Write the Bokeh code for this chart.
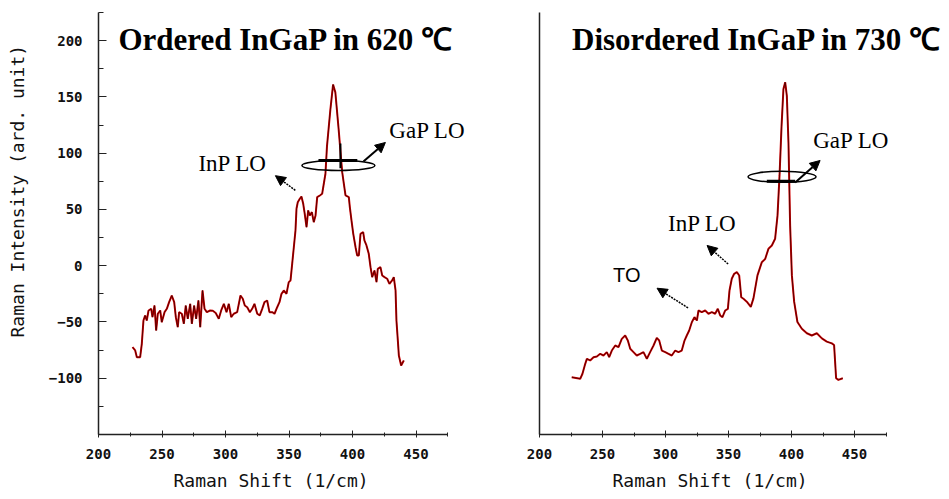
import math
from bokeh.plotting import figure
from bokeh.layouts import row
from bokeh.models import FixedTicker, Label, Arrow, NormalHead, ColumnDataSource, Title
from bokeh.core.properties import value
from bokeh.embed import file_html
from bokeh.resources import INLINE

# ---- data ----
ordered_shift = [226.8, 228.9, 230.2, 232.8, 234.1, 235.4, 236.7, 238.0, 239.4, 241.5, 242.5, 244.1,
                 245.4, 246.7, 248.6, 249.8, 252.0, 253.8, 255.6, 257.7, 259.6, 260.9, 262.4, 263.5,
                 265.6, 267.2, 268.7, 270.3, 272.2, 273.5, 275.3, 276.9, 278.7, 280.1, 281.9, 283.5,
                 285.3, 287.9, 290.0, 292.3, 294.7, 296.6, 298.7, 300.8, 302.6, 304.5, 306.5, 309.2,
                 311.8, 313.6, 315.2, 317.1, 319.2, 321.0, 322.8, 325.0, 327.0, 328.9, 330.7, 332.8,
                 334.6, 336.8, 338.6, 340.7, 342.5, 344.1, 345.9, 348.0, 349.8, 351.2, 352.5, 353.8,
                 355.1, 355.9, 356.9, 358.5, 359.8, 361.2, 362.4, 363.8, 365.1, 366.4, 368.0, 369.5,
                 370.9, 372.2, 374.3, 376.1, 377.4, 378.7, 379.9, 382.6, 384.7, 386.5, 389.1, 391.0,
                 391.9, 393.2, 394.5, 397.1, 397.9, 399.2, 400.6, 402.4, 403.7, 405.0, 406.3, 408.4,
                 409.4, 411.0, 412.8, 414.2, 415.5, 417.3, 418.9, 419.9, 422.0, 423.4, 425.2, 427.3,
                 429.1, 431.2, 432.5, 433.9, 434.6, 435.7, 436.5, 438.3, 440.4]
ordered_int = [-72.4, -75.3, -81.3, -81.3, -69.4, -48.7, -44.2, -48.7, -39.8, -38.3, -45.7, -35.4,
               -57.6, -42.7, -39.8, -50.2, -41.3, -38.3, -32.4, -26.5, -32.4, -45.7, -54.6, -41.3,
               -42.7, -51.6, -35.4, -47.2, -33.9, -51.6, -35.4, -47.2, -30.9, -54.6, -22.0, -38.3,
               -41.3, -39.8, -40.0, -42.0, -47.2, -39.8, -33.9, -41.3, -33.9, -45.7, -42.7, -41.3,
               -26.5, -29.4, -35.4, -36.9, -41.3, -38.3, -33.9, -42.7, -44.2, -38.3, -32.4, -30.9,
               -41.3, -41.3, -42.7, -36.9, -32.4, -25.0, -22.0, -25.0, -14.6, -13.1, 1.7, 16.4,
               31.3, 50.6, 56.4, 59.4, 61.5, 55.0, 46.1, 34.2, 49.1, 44.6, 47.6, 38.7,
               44.6, 60.9, 62.4, 63.9, 72.8, 81.7, 106.0, 139.0, 161.0, 154.0, 121.0, 95.0,
               83.1, 72.8, 62.4, 60.9, 52.0, 40.2, 28.3, 16.4, 9.1, 9.1, 28.3, 29.8,
               22.4, 18.0, 10.6, -1.3, -10.2, -4.3, -14.6, -2.8, -1.3, -8.7, -10.2, -11.6,
               -16.1, -13.1, -10.2, -22.0, -48.7, -66.5, -79.8, -88.7, -84.2]

disordered_shift = [225.6, 232.3, 234.1, 236.3, 237.6, 240.2, 242.9, 245.5, 248.2, 250.8, 253.4, 255.3,
                    257.4, 260.1, 262.7, 265.3, 268.0, 270.1, 272.0, 274.6, 277.2, 279.9, 282.5, 285.2,
                    287.8, 290.5, 293.1, 295.0, 297.1, 299.8, 302.4, 305.0, 307.7, 310.3, 312.9, 315.1,
                    316.9, 318.8, 320.9, 323.0, 324.9, 326.2, 328.8, 331.5, 334.1, 336.8, 339.4, 341.5,
                    343.4, 345.2, 347.4, 349.5, 350.8, 352.6, 354.5, 356.6, 358.5, 360.1, 361.9, 364.5,
                    367.7, 369.8, 373.0, 376.4, 379.1, 381.7, 384.4, 387.0, 388.9, 390.5, 392.1, 393.6,
                    395.0, 396.3, 397.6, 398.9, 400.3, 402.1, 404.7, 408.2, 412.2, 416.1, 420.1, 424.1,
                    428.0, 432.0, 433.8, 435.4, 437.2, 440.7]
disordered_int = [-99.1, -100.5, -96.0, -87.2, -82.7, -84.2, -81.3, -80.7, -78.3, -79.8, -76.8, -81.3,
                  -75.4, -70.9, -72.4, -65.0, -62.0, -66.5, -73.8, -76.8, -79.8, -78.3, -76.8, -82.7,
                  -76.8, -70.9, -64.1, -66.5, -75.4, -76.8, -78.3, -79.8, -75.4, -76.8, -75.4, -66.5,
                  -62.0, -57.6, -50.2, -45.7, -48.7, -39.8, -41.3, -39.8, -42.7, -41.3, -42.7, -38.3,
                  -44.2, -45.7, -39.8, -38.3, -22.0, -11.6, -7.2, -5.7, -8.7, -28.0, -29.4, -32.0,
                  -36.6, -29.0, -8.6, 3.0, 6.0, 15.0, 18.0, 24.0, 44.5, 80.0, 124.0, 157.0,
                  163.0, 151.0, 109.0, 36.0, -8.6, -32.0, -50.0, -56.0, -60.0, -62.0, -60.0, -64.6,
                  -67.5, -69.0, -70.5, -100.0, -101.5, -100.0]

x_ticks = [200, 250, 300, 350, 400, 450]
x_minor = [225, 275, 325, 375, 425, 475]
y_ticks = [-100, -50, 0, 50, 100, 150, 200]
y_minor = [-150, -125, -75, -25, 25, 75, 125, 175, 225]

left_title = "Ordered InGaP in 620 \u2103"
right_title = "Disordered InGaP in 730 \u2103"
x_label = "Raman Shift (1/cm)"
y_label = "Raman Intensity (ard. unit)"

X_BOUNDS = (200, 475)
Y_RANGE = (-150, 225)

TICK_FONT = "DejaVu Sans Mono"
AXIS_COLOR = "#222222"
FIG_H = 496


def base_fig(frame_w, x_end, bl, show_y, xlab_offset):
    p = figure(x_range=(200, x_end), y_range=Y_RANGE, frame_width=frame_w, frame_height=422,
               min_border_left=bl, min_border_right=2, min_border_top=12, min_border_bottom=58,
               output_backend="svg", toolbar_location=None, background_fill_color="white",
               border_fill_color="white")
    p.grid.visible = False
    p.outline_line_color = None
    xa = p.xaxis[0]
    xa.bounds = X_BOUNDS
    xa.ticker = FixedTicker(ticks=x_ticks, minor_ticks=x_minor)
    xa.axis_line_color = AXIS_COLOR
    xa.axis_line_width = 1.5
    xa.major_tick_in = 4
    xa.major_tick_out = 3
    xa.minor_tick_in = 2
    xa.minor_tick_out = 2
    xa.major_tick_line_color = AXIS_COLOR
    xa.minor_tick_line_color = AXIS_COLOR
    xa.major_label_text_font = TICK_FONT
    xa.major_label_text_font_size = "14px"
    xa.major_label_text_font_style = "bold"
    xa.major_label_text_color = "#111111"
    xa.major_label_standoff = 11
    p.add_layout(Title(text=x_label, align="left", offset=xlab_offset, standoff=12,
                       text_font=TICK_FONT, text_font_size="18px", text_font_style="normal",
                       text_color="#111111"), "below")

    ya = p.yaxis[0]
    ya.axis_line_color = AXIS_COLOR
    ya.axis_line_width = 1.5
    if show_y:
        ya.ticker = FixedTicker(ticks=y_ticks, minor_ticks=y_minor)
        ya.major_tick_in = 8
        ya.major_tick_out = 0
        ya.minor_tick_in = 5
        ya.minor_tick_out = 0
        ya.major_tick_line_color = AXIS_COLOR
        ya.minor_tick_line_color = AXIS_COLOR
        ya.major_label_text_font = TICK_FONT
        ya.major_label_text_font_size = "14px"
        ya.major_label_text_font_style = "bold"
        ya.major_label_text_color = "#111111"
        ya.major_label_standoff = 16
    else:
        ya.ticker = FixedTicker(ticks=[], minor_ticks=[])
        ya.major_tick_line_color = None
        ya.minor_tick_line_color = None
    return p


def draw_curve(p, xs, ys):
    src = ColumnDataSource(dict(x=xs, y=ys))
    p.line("x", "y", source=src, line_color="#d40000", line_width=2.0)
    p.line("x", "y", source=src, line_color="#3a0000", line_width=0.8)


def label(p, x, y, text, font, size, style="normal"):
    p.add_layout(Label(x=x, y=y, text=text, text_font=font, text_font_size=size,
                       text_font_style=style, text_baseline="middle", text_align="left",
                       text_color="black"))


def arrow(p, x0, y0, x1, y1, dash="solid", lw=1.5):
    p.add_layout(Arrow(end=NormalHead(size=10, fill_color="black", line_color="black"),
                       x_start=x0, y_start=y0, x_end=x1, y_end=y1,
                       line_color="black", line_width=lw, line_dash=dash))


# ---- y-axis title strip (label at far left) ----
p0 = figure(width=30, height=FIG_H, x_range=(0, 30), y_range=(FIG_H, 0),
            x_axis_location=None, y_axis_location=None, min_border=0,
            output_backend="svg", toolbar_location=None)
p0.grid.visible = False
p0.outline_line_color = None
p0.text(x=[17], y=[210], text=[y_label], angle=math.pi / 2, text_align="center",
        text_baseline="middle", text_font=value(TICK_FONT), text_font_size="18px",
        text_color="#111111")

# ---- left panel ----
p1 = base_fig(380, 200 + 380 * 50 / 63.5, 68, True, 75)
draw_curve(p1, ordered_shift, ordered_int)
label(p1, 215.7, 201, left_title, "Liberation Serif", "31px", "bold")
label(p1, 278.7, 91, "InP LO", "Liberation Serif", "23px")
label(p1, 429.0, 120, "GaP LO", "Liberation Serif", "23px")
p1.ellipse(x=[388.9], y=[89], width=[73], height=[10], width_units="screen",
           height_units="screen", fill_color=None, line_color="black", line_width=1.5)
p1.segment(x0=[373.2], y0=[93.5], x1=[403.8], y1=[93.5], line_color="black", line_width=3)
p1.segment(x0=[390.5], y0=[108.5], x1=[390.5], y1=[86.5], line_color="black", line_width=2)
arrow(p1, 355.0, 67, 339.3, 80, dash="2 1")
arrow(p1, 408.6, 92.5, 425.9, 109.5, lw=2)

# ---- right panel ----
p2 = base_fig(405, 200 + 405 * 50 / 63.0, 59, False, 73)
draw_curve(p2, disordered_shift, disordered_int)
label(p2, 225.8, 201, right_title, "Liberation Serif", "31px", "bold")
label(p2, 417.2, 111, "GaP LO", "Liberation Serif", "23px")
label(p2, 302.0, 37.5, "InP LO", "Liberation Serif", "23px")
label(p2, 258.4, -8.5, "TO", "Liberation Sans", "20px")
p2.ellipse(x=[392.5], y=[79], width=[68], height=[11], width_units="screen",
           height_units="screen", fill_color=None, line_color="black", line_width=1.5)
p2.segment(x0=[380.4], y0=[75], x1=[402.9], y1=[75], line_color="black", line_width=3)
arrow(p2, 402.9, 74, 422.7, 93.5, lw=2)
arrow(p2, 349.7, 1.5, 333.0, 18, dash="2 1")
arrow(p2, 317.9, -37.5, 293.3, -20, dash="2 1")

layout = row(p0, p1, p2)
open("out.html", "w").write(file_html(layout, INLINE))
